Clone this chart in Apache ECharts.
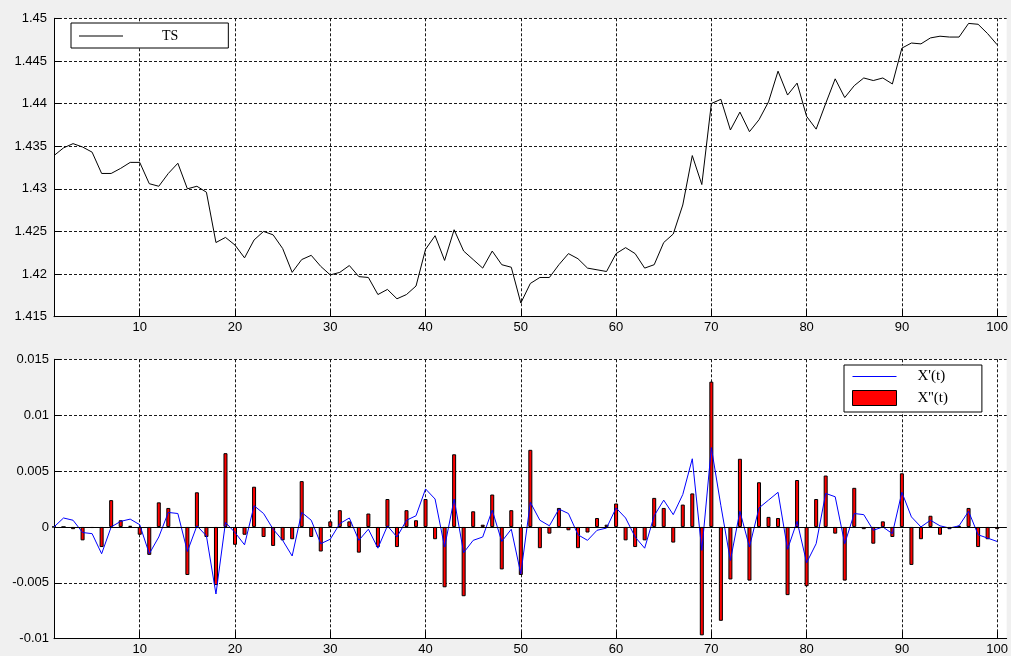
<!DOCTYPE html>
<html>
<head>
<meta charset="utf-8">
<title>TS and derivatives</title>
<script src="https://cdn.jsdelivr.net/npm/echarts@6/dist/echarts.min.js"></script>
<style>
  html, body { margin: 0; padding: 0; background: #f0f0f0; }
  #chart { width: 1011px; height: 656px; }
</style>
</head>
<body>
<div id="chart"></div>
<script>
// Time series TS(t), t = 1..100
const TS = [
  1.4339, 1.4348, 1.4353, 1.4349, 1.4343, 1.4318, 1.4318, 1.4324, 1.4331, 1.4331,
  1.4306, 1.4303, 1.4318, 1.4330, 1.4300, 1.4303, 1.4296, 1.4237, 1.4243, 1.4234,
  1.4219, 1.4240, 1.4250, 1.4246, 1.4230, 1.4202, 1.4217, 1.4222, 1.4209, 1.4199,
  1.4202, 1.4210, 1.4197, 1.4196, 1.4176, 1.4182, 1.4171, 1.4176, 1.4186, 1.4229,
  1.4245, 1.4216, 1.4252, 1.4227, 1.4217, 1.4207, 1.4227, 1.4211, 1.4208, 1.4166,
  1.4189, 1.4196, 1.4196, 1.4211, 1.4224, 1.4218, 1.4207, 1.4205, 1.4203, 1.4224,
  1.4231, 1.4224, 1.4207, 1.4211, 1.4237, 1.4247, 1.4281, 1.4339, 1.4305, 1.4400,
  1.4405, 1.4369, 1.4390, 1.4367, 1.4381, 1.4402, 1.4438, 1.4410, 1.4424, 1.4385,
  1.4370, 1.4400, 1.4429, 1.4407, 1.4421, 1.4430, 1.4427, 1.4430, 1.4423, 1.4465,
  1.4471, 1.4470, 1.4477, 1.4479, 1.4478, 1.4478, 1.4494, 1.4493, 1.4482, 1.4469
];

// First derivative X'(t)
const dX = [
   0.0000,  0.0008,  0.0006, -0.0005, -0.0006, -0.0024,  0.0000,  0.0005,  0.0007,  0.0002,
  -0.0024, -0.0009,  0.0013,  0.0012, -0.0022,  0.0001, -0.0008, -0.0060,  0.0004, -0.0005,
  -0.0016,  0.0019,  0.0012, -0.0002, -0.0012, -0.0026,  0.0013,  0.0006, -0.0015, -0.0011,
   0.0003,  0.0008, -0.0012, -0.0002, -0.0019,  0.0001, -0.0009,  0.0006,  0.0010,  0.0034,
   0.0025, -0.0018,  0.0025, -0.0023, -0.0012, -0.0009,  0.0015, -0.0013, -0.0002, -0.0042,
   0.0022,  0.0006,  0.0001,  0.0016,  0.0012, -0.0007, -0.0012, -0.0003, -0.0001,  0.0017,
   0.0008, -0.0009, -0.0019,  0.0010,  0.0024,  0.0011,  0.0029,  0.0061, -0.0021,  0.0071,
   0.0019, -0.0030,  0.0014, -0.0018,  0.0017,  0.0024,  0.0031, -0.0020,  0.0005, -0.0032,
  -0.0015,  0.0030,  0.0027, -0.0015,  0.0012,  0.0011, -0.0003,  0.0000, -0.0006,  0.0031,
   0.0009,  0.0000,  0.0006,  0.0001, -0.0001,  0.0001,  0.0014, -0.0007, -0.0010, -0.0013
];

// Second derivative X''(t)
const d2X = [
   0.0000,  0.0000, -0.0002, -0.0012, -0.0001, -0.0018,  0.0024,  0.0006,  0.0001, -0.0007,
  -0.0025,  0.0022,  0.0017, -0.0001, -0.0043,  0.0031, -0.0009, -0.0052,  0.0066, -0.0016,
  -0.0007,  0.0036, -0.0009, -0.0017, -0.0012, -0.0011,  0.0041, -0.0009, -0.0022,  0.0005,
   0.0015,  0.0005, -0.0023,  0.0012, -0.0018,  0.0025, -0.0018,  0.0015,  0.0006,  0.0025,
  -0.0011, -0.0054,  0.0065, -0.0062,  0.0014,  0.0002,  0.0029, -0.0038,  0.0015, -0.0043,
   0.0069, -0.0019, -0.0006,  0.0017, -0.0003, -0.0019, -0.0005,  0.0008,  0.0002,  0.0021,
  -0.0012, -0.0018, -0.0012,  0.0026,  0.0017, -0.0014,  0.0020,  0.0030, -0.0097,  0.0130,
  -0.0084, -0.0047,  0.0061, -0.0048,  0.0040,  0.0009,  0.0008, -0.0061,  0.0042, -0.0053,
   0.0025,  0.0046, -0.0006, -0.0048,  0.0035, -0.0002, -0.0015,  0.0005, -0.0009,  0.0048,
  -0.0034, -0.0011,  0.0010, -0.0007, -0.0002,  0.0001,  0.0017, -0.0018, -0.0011, -0.0002
];

// X tick labels (both panels)
const xTicks = [10, 20, 30, 40, 50, 60, 70, 80, 90, 100];
// Y axis ranges
const tsRange = { min: 1.415, max: 1.45, step: 0.005 };
const derivRange = { min: -0.01, max: 0.015, step: 0.005 };

// sample index t = 1..N
const t = TS.map((_, i) => i + 1);
const pairs = (arr) => arr.map((v, i) => [t[i], v]);

const AXIS_FONT = "'Liberation Sans', Arial, sans-serif";
const LEGEND_FONT = "'Liberation Serif', 'Times New Roman', serif";
const LINE_ICON = 'path://M0,0H44V1H0Z';
const GRID_LINE = { color: '#1a1a1a', type: [3, 2], width: 1 };

const fmt = (v) => String(parseFloat(Number(v).toFixed(4)));

function makeXAxis(gridIndex) {
  return {
    type: 'value', gridIndex, min: 1, max: 101,
    axisLine: { show: true, onZero: false, lineStyle: { color: '#000', width: 1 } },
    axisTick: { show: true, inside: true, length: 7, customValues: xTicks, lineStyle: { color: '#000' } },
    axisLabel: { customValues: xTicks, color: '#000', fontFamily: AXIS_FONT, fontSize: 13, margin: 4 },
    splitLine: { show: true, lineStyle: GRID_LINE }
  };
}

function makeYAxis(gridIndex, r, margin) {
  return {
    type: 'value', gridIndex, min: r.min, max: r.max, interval: r.step,
    axisLine: { show: true, onZero: false, lineStyle: { color: '#000', width: 1 } },
    axisTick: { show: true, inside: true, length: 7, lineStyle: { color: '#000' } },
    axisLabel: { color: '#000', fontFamily: AXIS_FONT, fontSize: 13, margin, formatter: fmt },
    splitLine: { show: true, lineStyle: GRID_LINE }
  };
}

const chart = echarts.init(document.getElementById('chart'), null, { renderer: 'canvas' });

chart.setOption({
  animation: false,
  backgroundColor: '#f0f0f0',
  grid: [
    { left: 54, top: 18.3, width: 953, height: 298.4, show: true, backgroundColor: '#fff', borderWidth: 0, containLabel: false },
    { left: 54, top: 359.3, width: 953, height: 279.4, show: true, backgroundColor: '#fff', borderWidth: 0, containLabel: false }
  ],
  xAxis: [makeXAxis(0), makeXAxis(1)],
  yAxis: [makeYAxis(0, tsRange, 7), makeYAxis(1, derivRange, 5)],
  legend: [
    {
      data: [{ name: 'TS', icon: LINE_ICON }],
      left: 71, top: 23, orient: 'vertical',
      itemWidth: 44, itemHeight: 14,
      padding: [6, 50, 5, 8],
      backgroundColor: '#fff', borderColor: '#000', borderWidth: 1, borderRadius: 0,
      selectedMode: false,
      textStyle: { fontFamily: LEGEND_FONT, fontSize: 14, color: '#000', padding: [0, 0, 0, 34], lineHeight: 14 }
    },
    {
      data: [
        { name: "X'(t)", icon: LINE_ICON },
        { name: "X''(t)", icon: 'rect', itemStyle: { color: '#ff0000', borderColor: '#000', borderWidth: 1 } }
      ],
      left: 844, top: 365, orient: 'vertical',
      itemWidth: 44, itemHeight: 15, itemGap: 6,
      padding: [4, 34, 6, 8],
      backgroundColor: '#fff', borderColor: '#000', borderWidth: 1, borderRadius: 0,
      selectedMode: false,
      textStyle: { fontFamily: LEGEND_FONT, fontSize: 15, color: '#000', padding: [0, 0, 0, 16], lineHeight: 15 }
    }
  ],
  series: [
    {
      name: 'TS', type: 'line', xAxisIndex: 0, yAxisIndex: 0,
      data: pairs(TS), symbol: 'none', color: '#000',
      lineStyle: { color: '#000', width: 1 }, z: 3
    },
    {
      name: "X''(t)", type: 'bar', xAxisIndex: 1, yAxisIndex: 1,
      data: pairs(d2X), barWidth: 4, color: '#ff0000',
      itemStyle: { color: '#ff0000', borderColor: '#000', borderWidth: 1 },
      markLine: {
        silent: true, symbol: ['none', 'none'], label: { show: false },
        lineStyle: { color: '#000', type: 'solid', width: 1 },
        data: [{ yAxis: 0 }]
      },
      z: 2
    },
    {
      name: "X'(t)", type: 'line', xAxisIndex: 1, yAxisIndex: 1,
      data: pairs(dX), symbol: 'none', color: '#0000ff',
      lineStyle: { color: '#0000ff', width: 1 }, z: 4
    }
  ]
});
</script>
</body>
</html>
